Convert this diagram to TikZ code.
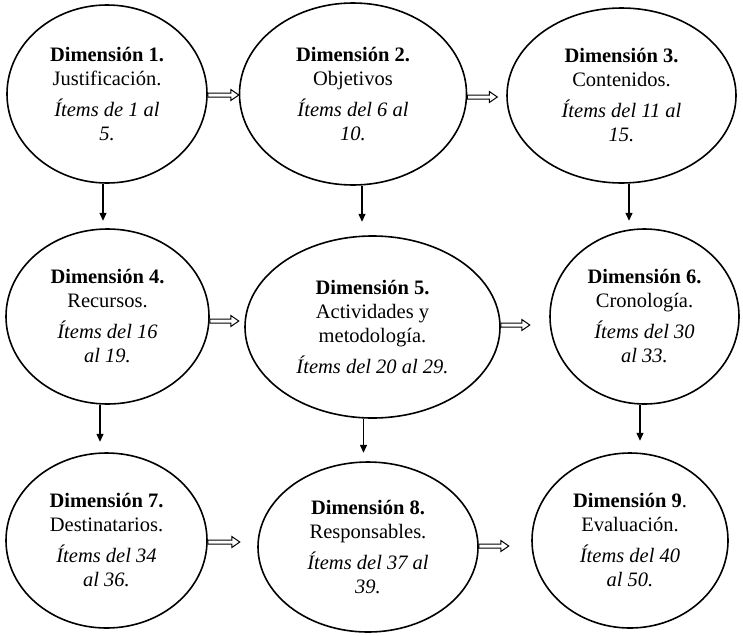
\documentclass[tikz,border=0pt]{standalone}
\usepackage{fontspec}
\setmainfont{Liberation Serif}
\usetikzlibrary{arrows.meta,shapes.geometric}
\tikzset{
  dim/.style={ellipse, draw, line width=1.6pt, inner sep=0pt, align=center,
    font=\fontsize{20.5}{24}\selectfont},
  down/.style={line width=1.3pt, -{Triangle[width=7pt,length=8pt]}},
  blk/.style={draw, fill=white, line width=1pt, line join=miter},
}
\newcommand{\gap}{\\[7pt]}
\newcommand{\blkarrow}[2]{%
  \path[blk] #1 ++(0,-2) -- ++({#2-8},0) -- ++(0,-3.5) -- ++(8,5.5)
     -- ++(-8,5.5) -- ++(0,-3.5) -- ++({8-#2},0) -- cycle;}
\begin{document}
\begin{tikzpicture}[x=1pt,y=-1pt]
\useasboundingbox[fill=white] (0,0) rectangle (743,635);
\node[dim, minimum width=200pt, minimum height=178pt] (e1) at (107,94)
  {\textbf{Dimensión 1.}\\Justificación.\gap\textit{Ítems de 1 al}\\\textit{5.}};
\node[dim, minimum width=227pt, minimum height=182pt] (e2) at (353,94)
  {\textbf{Dimensión 2.}\\Objetivos\gap\textit{Ítems del 6 al}\\\textit{10.}};
\node[dim, minimum width=229pt, minimum height=175pt] (e3) at (621.5,95.5)
  {\textbf{Dimensión 3.}\\Contenidos.\gap\textit{Ítems del 11 al}\\\textit{15.}};
\node[dim, minimum width=203pt, minimum height=175pt] (e4) at (107.5,316.5)
  {\textbf{Dimensión 4.}\\Recursos.\gap\textit{Ítems del 16}\\\textit{al 19.}};
\node[dim, minimum width=255pt, minimum height=182pt] (e5) at (372.5,327)
  {\textbf{Dimensión 5.}\\Actividades y\\metodología.\gap\textit{Ítems del 20 al 29.}};
\node[dim, minimum width=189pt, minimum height=175pt] (e6) at (644.5,316.5)
  {\textbf{Dimensión 6.}\\Cronología.\gap\textit{Ítems del 30}\\\textit{al 33.}};
\node[dim, minimum width=201pt, minimum height=175pt] (e7) at (106.5,540.5)
  {\textbf{Dimensión 7.}\\Destinatarios.\gap\textit{Ítems del 34}\\\textit{al 36.}};
\node[dim, minimum width=220pt, minimum height=170pt] (e8) at (368,547)
  {\textbf{Dimensión 8.}\\Responsables.\gap\textit{Ítems del 37 al}\\\textit{39.}};
\node[dim, minimum width=196pt, minimum height=175pt] (e9) at (630,540.5)
  {\textbf{Dimensión 9}.\\Evaluación.\gap\textit{Ítems del 40}\\\textit{al 50.}};
% vertical arrows
\draw[down] ([xshift=-4pt]e1.south) -- ++(0,37);
\draw[down] ([xshift=9pt]e2.south) -- ++(0,36);
\draw[down] ([xshift=7.5pt]e3.south) -- ++(0,37);
\draw[down] ([xshift=-7.5pt]e4.south) -- ++(0,37);
\draw[down] ([xshift=-9pt]e5.south) -- ++(0,34);
\draw[down] ([xshift=-4.5pt]e6.south) -- ++(0,36);
% double (block) arrows
\blkarrow{([yshift=-1pt]e1.east)}{31}
\blkarrow{([yshift=-3pt]e2.east)}{30}
\blkarrow{([yshift=-4.5pt]e4.east)}{29}
\blkarrow{([yshift=2pt]e5.east)}{29}
\blkarrow{([yshift=-1.5pt]e7.east)}{32}
\blkarrow{([yshift=1pt]e8.east)}{30}
\end{tikzpicture}
\end{document}
